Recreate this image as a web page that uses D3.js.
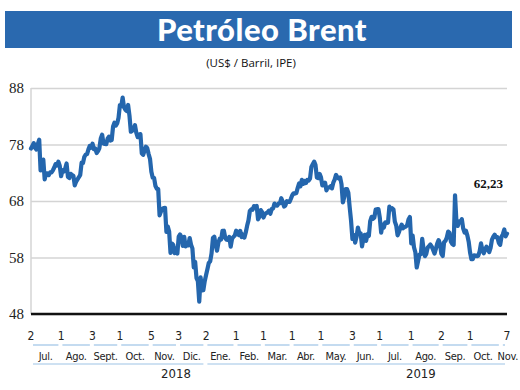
<!DOCTYPE html>
<html><head><meta charset="utf-8">
<script src="https://cdn.jsdelivr.net/npm/d3@7"></script>
<style>body{margin:0;background:#fff} svg{display:block}</style>
</head><body>
<svg id="c" width="520" height="390"></svg>
<script>
const dates = [
"2018-07-02","2018-07-03","2018-07-04","2018-07-05","2018-07-06","2018-07-09","2018-07-10","2018-07-11","2018-07-12","2018-07-13","2018-07-16","2018-07-17","2018-07-18","2018-07-19","2018-07-20","2018-07-23","2018-07-24","2018-07-25","2018-07-26","2018-07-27","2018-07-30","2018-07-31",
"2018-08-01","2018-08-02","2018-08-03","2018-08-06","2018-08-07","2018-08-08","2018-08-09","2018-08-10","2018-08-13","2018-08-14","2018-08-15","2018-08-16","2018-08-17","2018-08-20","2018-08-21","2018-08-22","2018-08-23","2018-08-24","2018-08-27","2018-08-28","2018-08-29","2018-08-30","2018-08-31",
"2018-09-03","2018-09-04","2018-09-05","2018-09-06","2018-09-07","2018-09-10","2018-09-11","2018-09-12","2018-09-13","2018-09-14","2018-09-17","2018-09-18","2018-09-19","2018-09-20","2018-09-21","2018-09-24","2018-09-25","2018-09-26","2018-09-27","2018-09-28",
"2018-10-01","2018-10-02","2018-10-03","2018-10-04","2018-10-05","2018-10-08","2018-10-09","2018-10-10","2018-10-11","2018-10-12","2018-10-15","2018-10-16","2018-10-17","2018-10-18","2018-10-19","2018-10-22","2018-10-23","2018-10-24","2018-10-25","2018-10-26","2018-10-29","2018-10-30","2018-10-31",
"2018-11-05","2018-11-06","2018-11-07","2018-11-08","2018-11-09","2018-11-12","2018-11-13","2018-11-14","2018-11-15","2018-11-16","2018-11-19","2018-11-20","2018-11-21","2018-11-22","2018-11-23","2018-11-26","2018-11-27","2018-11-28","2018-11-29","2018-11-30",
"2018-12-03","2018-12-04","2018-12-05","2018-12-06","2018-12-07","2018-12-10","2018-12-11","2018-12-12","2018-12-13","2018-12-14","2018-12-17","2018-12-18","2018-12-19","2018-12-20","2018-12-21","2018-12-24","2018-12-26","2018-12-27","2018-12-28","2018-12-31",
"2019-01-02","2019-01-03","2019-01-04","2019-01-07","2019-01-08","2019-01-09","2019-01-10","2019-01-11","2019-01-14","2019-01-15","2019-01-16","2019-01-17","2019-01-18","2019-01-21","2019-01-22","2019-01-23","2019-01-24","2019-01-25","2019-01-28","2019-01-29","2019-01-30","2019-01-31",
"2019-02-01","2019-02-04","2019-02-05","2019-02-06","2019-02-07","2019-02-08","2019-02-11","2019-02-12","2019-02-13","2019-02-14","2019-02-15","2019-02-18","2019-02-19","2019-02-20","2019-02-21","2019-02-22","2019-02-25","2019-02-26","2019-02-27","2019-02-28",
"2019-03-01","2019-03-04","2019-03-05","2019-03-06","2019-03-07","2019-03-08","2019-03-11","2019-03-12","2019-03-13","2019-03-14","2019-03-15","2019-03-18","2019-03-19","2019-03-20","2019-03-21","2019-03-22","2019-03-25","2019-03-26","2019-03-27","2019-03-28","2019-03-29",
"2019-04-01","2019-04-02","2019-04-03","2019-04-04","2019-04-05","2019-04-08","2019-04-09","2019-04-10","2019-04-11","2019-04-12","2019-04-15","2019-04-16","2019-04-17","2019-04-18","2019-04-22","2019-04-23","2019-04-24","2019-04-25","2019-04-26","2019-04-29","2019-04-30",
"2019-05-01","2019-05-02","2019-05-03","2019-05-06","2019-05-07","2019-05-08","2019-05-09","2019-05-10","2019-05-13","2019-05-14","2019-05-15","2019-05-16","2019-05-17","2019-05-20","2019-05-21","2019-05-22","2019-05-23","2019-05-24","2019-05-27","2019-05-28","2019-05-29","2019-05-30","2019-05-31",
"2019-06-03","2019-06-04","2019-06-05","2019-06-06","2019-06-07","2019-06-10","2019-06-11","2019-06-12","2019-06-13","2019-06-14","2019-06-17","2019-06-18","2019-06-19","2019-06-20","2019-06-21","2019-06-24","2019-06-25","2019-06-26","2019-06-27","2019-06-28",
"2019-07-01","2019-07-02","2019-07-03","2019-07-04","2019-07-05","2019-07-08","2019-07-09","2019-07-10","2019-07-11","2019-07-12","2019-07-15","2019-07-16","2019-07-17","2019-07-18","2019-07-19","2019-07-22","2019-07-23","2019-07-24","2019-07-25","2019-07-26","2019-07-29","2019-07-30","2019-07-31",
"2019-08-01","2019-08-02","2019-08-05","2019-08-06","2019-08-07","2019-08-08","2019-08-09","2019-08-12","2019-08-13","2019-08-14","2019-08-15","2019-08-16","2019-08-19","2019-08-20","2019-08-21","2019-08-22","2019-08-23","2019-08-26","2019-08-27","2019-08-28","2019-08-29","2019-08-30",
"2019-09-02","2019-09-03","2019-09-04","2019-09-05","2019-09-06","2019-09-09","2019-09-10","2019-09-11","2019-09-12","2019-09-13","2019-09-16","2019-09-17","2019-09-18","2019-09-19","2019-09-20","2019-09-23","2019-09-24","2019-09-25","2019-09-26","2019-09-27","2019-09-30",
"2019-10-01","2019-10-02","2019-10-03","2019-10-04","2019-10-07","2019-10-08","2019-10-09","2019-10-10","2019-10-11","2019-10-14","2019-10-15","2019-10-16","2019-10-17","2019-10-18","2019-10-21","2019-10-22","2019-10-23","2019-10-24","2019-10-25","2019-10-28","2019-10-29","2019-10-30","2019-10-31",
"2019-11-01","2019-11-04","2019-11-05","2019-11-06","2019-11-07"
];
const prices = [
77.30,77.76,78.24,77.39,77.11,78.07,78.86,73.40,74.45,75.33,71.84,72.90,72.90,72.58,73.07,73.06,73.44,73.93,74.54,74.29,74.97,74.25,
72.39,73.45,73.21,73.75,74.65,72.28,72.07,72.81,72.61,72.46,70.76,71.43,71.83,72.21,72.63,74.78,74.73,75.82,76.21,76.31,77.14,77.77,77.42,
78.15,77.17,77.27,76.50,76.83,77.37,79.06,79.74,78.18,78.09,78.05,79.03,79.40,78.70,78.80,81.20,81.87,81.34,81.72,82.72,
84.98,84.80,86.29,84.58,84.16,83.91,85.00,83.09,80.26,80.43,80.78,81.41,80.05,79.29,79.78,79.83,76.44,76.17,76.89,77.62,77.34,76.31,75.47,
73.17,72.13,72.07,70.65,70.18,70.12,65.47,66.12,66.62,66.76,66.79,62.53,63.48,62.60,58.80,60.48,60.21,58.76,59.51,58.71,
61.69,62.08,61.56,60.06,61.67,59.97,60.20,60.15,61.45,60.28,59.61,56.26,57.24,54.35,53.82,50.20,54.47,52.16,52.20,53.80,
54.91,55.95,57.06,57.33,58.72,61.44,61.68,60.20,59.20,60.64,61.32,61.18,62.70,62.74,61.50,61.14,61.09,61.64,59.93,61.32,61.65,61.89,
62.75,62.51,61.98,62.69,61.63,62.10,61.51,62.42,63.61,64.57,66.25,66.50,66.45,67.08,67.07,67.12,64.76,65.21,66.39,66.03,
65.07,65.67,65.86,65.99,66.30,65.74,66.58,66.67,67.55,67.23,67.16,67.54,67.61,68.50,67.86,67.03,67.21,67.97,67.83,67.82,68.39,
69.01,69.37,69.31,69.40,70.34,71.10,70.61,71.73,71.02,71.55,71.18,71.72,71.62,71.97,74.04,74.51,74.97,74.35,72.15,72.04,72.80,
72.18,70.75,70.85,71.24,69.88,70.37,70.39,70.62,70.23,71.24,71.77,72.62,72.21,71.97,72.18,70.99,67.76,68.69,70.11,70.11,69.45,66.87,64.49,
61.28,61.97,60.63,61.67,63.29,62.29,62.29,59.97,61.31,62.01,60.94,62.14,61.82,64.45,65.20,64.86,65.05,66.49,66.55,66.55,
65.06,62.40,63.82,63.30,64.23,64.11,64.16,67.01,66.52,66.72,66.48,64.35,63.66,61.93,62.47,63.26,63.83,63.18,63.39,63.46,63.71,64.72,65.17,
60.50,61.89,59.81,58.94,56.23,57.38,58.53,58.57,61.30,59.48,58.23,58.64,59.74,60.03,60.30,59.92,59.34,58.70,59.51,60.49,61.08,60.43,
58.66,58.26,60.70,60.95,61.54,62.59,62.38,60.81,60.38,60.22,69.02,64.55,63.60,64.40,64.28,64.77,63.10,62.39,62.74,61.91,60.78,
58.89,57.69,57.71,58.37,58.35,58.24,58.32,59.10,60.51,59.35,58.74,59.42,59.91,59.42,58.96,59.70,61.17,61.67,62.02,61.57,61.59,60.61,60.23,
61.69,62.13,62.96,61.74,62.23
];
const yTicks = [48,58,68,78,88];
const tickDates = ["2018-07-02","2018-08-01","2018-09-03","2018-10-01","2018-11-05","2018-12-03","2019-01-02","2019-02-01","2019-03-01","2019-04-01","2019-05-01","2019-06-03","2019-07-01","2019-08-01","2019-09-02","2019-10-01","2019-11-07"];
const tickLabels = ["2","1","3","1","5","3","2","1","1","1","1","3","1","1","2","1","7"];
const monthLabels = ["Jul.","Ago.","Sept.","Oct.","Nov.","Dic.","Ene.","Feb.","Mar.","Abr.","May.","Jun.","Jul.","Ago.","Sep.","Oct.","Nov."];
const monthStarts = ["2018-07-02","2018-08-01","2018-09-03","2018-10-01","2018-11-05","2018-12-03","2019-01-02","2019-02-01","2019-03-01","2019-04-01","2019-05-01","2019-06-03","2019-07-01","2019-08-01","2019-09-02","2019-10-01","2019-11-01"];
const years = ["2018","2019"];
const yearStarts = ["2018-07-02","2019-01-02"];
const yearLabelAt = ["2018-11-29","2019-08-12"];
const lastLabel = "62,23";

const svg = d3.select("#c");
const blue = "#2466ad";
const n = dates.length;
const idx = d => dates.indexOf(d);
const x = d3.scaleLinear().domain([0, n-1]).range([31, 507]);
const y = d3.scaleLinear().domain([48, 88]).range([314, 88]);
const step = x(1) - x(0);

// title
svg.append("rect").attr("x",5).attr("y",11).attr("width",507).attr("height",37).attr("fill","#2a69af");
svg.append("text").attr("x",262).attr("y",41).attr("text-anchor","middle")
  .attr("font-family","Lato, 'Open Sans', sans-serif").attr("font-weight","900").attr("font-size",31)
  .attr("fill","#fff").attr("letter-spacing",0.5).text("Petróleo Brent");
svg.append("text").attr("x",251).attr("y",67).attr("text-anchor","middle")
  .attr("font-family","'Open Sans', sans-serif").attr("font-size",11.5).attr("fill","#111")
  .text("(US$ / Barril, IPE)");

// y grid/axis
const yAxis = svg.append("g").attr("transform","translate(31,0)")
  .call(d3.axisLeft(y).tickValues(yTicks).tickSize(-(507-31)).tickPadding(7));
yAxis.select(".domain").remove();
yAxis.selectAll(".tick line").attr("stroke","#d4d4d4").attr("stroke-width",1.5);
yAxis.selectAll(".tick text").attr("font-family","'Liberation Serif', serif").attr("font-size",15).attr("fill","#222");
svg.append("line").attr("x1",31).attr("x2",31).attr("y1",y(88)).attr("y2",y(48)).attr("stroke","#d4d4d4").attr("stroke-width",1.5);
svg.append("line").attr("x1",31).attr("x2",507).attr("y1",y(48)).attr("y2",y(48)).attr("stroke","#111").attr("stroke-width",2.5);

// line
svg.append("path").datum(prices)
  .attr("d", d3.line().x((d,i)=>x(i)).y(d=>y(d)))
  .attr("fill","none").attr("stroke",blue).attr("stroke-width",4.2)
  .attr("stroke-linejoin","round").attr("stroke-linecap","round");

svg.append("text").attr("x",x(n-1)-4).attr("y",y(prices[n-1])-46).attr("text-anchor","end")
  .attr("font-family","'Liberation Serif', serif").attr("font-weight","bold").attr("font-size",13)
  .attr("fill","#111").text(lastLabel);

// x labels
const xf = "'Liberation Sans Narrow','DejaVu Sans Condensed', sans-serif";
const segColor = "#9dc3e6";
tickDates.forEach((d,i)=>{
  svg.append("text").attr("x",x(idx(d))).attr("y",340).attr("text-anchor","middle")
    .attr("font-family",xf).attr("font-size",12).attr("fill","#222").text(tickLabels[i]);
});
monthStarts.forEach((d,i)=>{
  const a = i===0 ? x(0) : x(idx(d)) - step/2;
  const b = i===monthStarts.length-1 ? x(n-1) : x(idx(monthStarts[i+1])) - step/2;
  const last = i===monthStarts.length-1;
  svg.append("line").attr("x1",a+2).attr("x2",b-2).attr("y1",345).attr("y2",345)
    .attr("stroke",segColor).attr("stroke-width",1.2);
  svg.append("text").attr("x",last ? b + 11 : (a+b)/2 - (i===monthStarts.length-2 ? 2 : 0)).attr("y",360)
    .attr("text-anchor", last ? "end" : "middle")
    .attr("font-family",xf).attr("font-size",11).attr("letter-spacing",-0.3).attr("fill","#222").text(monthLabels[i]);
});
yearStarts.forEach((d,i)=>{
  const a = i===0 ? x(0) : x(idx(d)) - step/2;
  const b = i===yearStarts.length-1 ? x(n-1) : x(idx(yearStarts[i+1])) - step/2;
  svg.append("line").attr("x1",a+2).attr("x2",b-2).attr("y1",364).attr("y2",364)
    .attr("stroke",segColor).attr("stroke-width",1.2);
  svg.append("text").attr("x",x(idx(yearLabelAt[i]))).attr("y",378).attr("text-anchor","middle")
    .attr("font-family",xf).attr("font-size",13).attr("fill","#222").text(years[i]);
});
</script>
</body></html>
